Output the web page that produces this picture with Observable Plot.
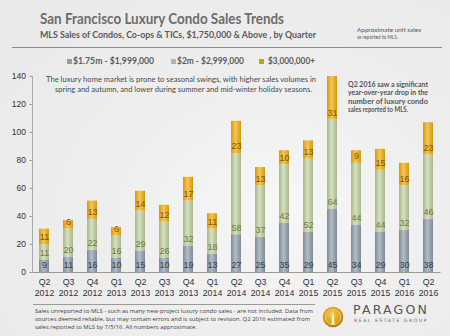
<!DOCTYPE html>
<html><head><meta charset="utf-8">
<script src="https://cdn.jsdelivr.net/npm/d3@7"></script>
<script src="https://cdn.jsdelivr.net/npm/@observablehq/plot@0.6"></script>
<style>
html,body{margin:0;padding:0;}
body{width:450px;height:336px;overflow:hidden;background:#fff;}
#card{position:absolute;left:0;top:0;width:450px;height:336px;background:radial-gradient(ellipse at 62% 62%, #f7f7f7 0%, #eeeeee 45%, #e9e9e9 100%);}
.t{position:absolute;white-space:nowrap;transform-origin:0 0;}
.line{position:absolute;}
#chart{position:absolute;left:0;top:66px;}
</style></head>
<body><div id="card">
<div class="line" style="left:12px;top:46.5px;width:430px;height:1px;background:#8a8a8a"></div>
<div class="line" style="left:33px;top:304px;width:282px;height:1px;background:#9a9a9a"></div>
<div id="chart"></div>
<svg style="position:absolute;left:322px;top:306px" width="22" height="22" viewBox="0 0 22 22">
  <defs><radialGradient id="lg" cx="45%" cy="40%" r="60%"><stop offset="0%" stop-color="#f6cf5a"/><stop offset="70%" stop-color="#d89c16"/><stop offset="100%" stop-color="#b07a0a"/></radialGradient></defs>
  <circle cx="11" cy="11" r="10.3" fill="url(#lg)"/>
  <circle cx="11" cy="11" r="7.6" fill="none" stroke="#fbe7a8" stroke-width="0.7" opacity="0.8"/>
  <path d="M11 3.2 L12.6 18.5 L9.4 18.5 Z" fill="#fff7e0"/>
</svg>
</div>
<script>
const quarters = ["Q2 2012","Q3 2012","Q4 2012","Q1 2013","Q2 2013","Q3 2013","Q4 2013","Q1 2014","Q2 2014","Q3 2014","Q4 2014","Q1 2015","Q2 2015","Q3 2015","Q4 2015","Q1 2016","Q2 2016"];
const tiers = ["$1.75m - $1,999,000","$2m - $2,999,000","$3,000,000+"];
const tier1 = [9,11,16,10,15,10,19,13,27,25,35,29,45,34,29,30,38];
const tier2 = [11,20,22,16,29,26,32,18,58,37,42,52,64,44,44,32,46];
const tier3 = [11,6,13,6,14,12,17,11,23,13,10,13,31,9,15,16,23];
const yTicks = [0,20,40,60,80,100,120,140];

const title = "San Francisco Luxury Condo Sales Trends";
const subtitle = "MLS Sales of Condos, Co-ops & TICs, $1,750,000 & Above , by Quarter";
const noteLines = ["Approximate unit sales","as reported to MLS."];
const ann1Lines = ["The luxury home market is prone to seasonal swings, with higher sales volumes in","spring and autumn, and lower during summer and mid-winter holiday seasons."];
const ann2Lines = ["Q2 2016 saw a significant","year-over-year drop in the","number of luxury condo","sales reported to MLS."];
const footLines = ["Sales unreported to MLS - such as many new-project luxury condo sales - are not included. Data from","sources deemed reliable, but may contain errors and is subject to revision. Q2 2016 estimated from","sales reported to MLS by 7/5/16. All numbers approximate."];

const swatch = ["#9b9b9b","#b4b99b","#c99a26"];
const gradIds = ["gA","gB","gC"];
const gradStops = [["#7e8b98","#b2bcc5","#7e8b98"],["#a9b88b","#d7e0be","#a9b88b"],["#d8980f","#f4c552","#d8980f"]];
const labelCol = ["#34424f","#6b7a4c","#7a560a"];

const card = document.getElementById("card");
function place(txt, x, cy, w, size, opts={}) {
  const el = document.createElement("div");
  el.className = "t";
  el.textContent = txt;
  el.style.left = x + "px";
  el.style.top = (cy - 0.56*size) + "px";
  el.style.fontSize = size + "px";
  el.style.lineHeight = size + "px";
  el.style.fontFamily = opts.font || "Lato, 'Open Sans', sans-serif";
  el.style.fontWeight = opts.weight || "normal";
  el.style.color = opts.color || "#444";
  if (opts.ls) el.style.letterSpacing = opts.ls + "px";
  card.appendChild(el);
  const r = el.getBoundingClientRect().width;
  el.style.transform = `scaleX(${w / r})`;
  return el;
}

place(title, 40, 20, 244, 14.5, {weight:"bold", color:"#6d6d6d"});
place(subtitle, 40, 34.3, 276, 10, {weight:"bold", color:"#5a5a5a"});
place(noteLines[0], 357, 29.8, 64, 5.8, {color:"#555"});
place(noteLines[1], 357, 37, 41, 5.8, {color:"#555"});

const legX = [67,171,259], legTX = [73,177,268], legW = [81,67,47];
tiers.forEach((t,k)=>{
  const sq = document.createElement("div");
  sq.className = "line";
  Object.assign(sq.style,{left:legX[k]+"px",top:"59.3px",width:"5px",height:"5px",background:swatch[k]});
  card.appendChild(sq);
  place(t, legTX[k], 61.7, legW[k], 8.5, {weight:"bold", color:"#5a5a5a"});
});

place(ann1Lines[0], 46, 80.7, 270, 7.6, {color:"#4a4a4a"});
place(ann1Lines[1], 55, 90.2, 257, 7.6, {color:"#4a4a4a"});
const ann2W = [80,80,80,60];
ann2Lines.forEach((l,i)=>place(l, 348, 85 + i*8.3, ann2W[i], 7, {weight:"bold", color:"#555"}));

const footW = [278,275,162];
footLines.forEach((l,i)=>place(l, 35, 311 + i*8, footW[i], 6, {color:"#404040", font:"'Open Sans', sans-serif"}));
place("PARAGON", 353, 311, 76, 11.5, {color:"#555", font:"'DejaVu Sans', sans-serif", ls:2});
place("REAL ESTATE GROUP", 354, 321.7, 74, 4.6, {color:"#666", font:"'DejaVu Sans', sans-serif", ls:1.5});

const series = [tier1,tier2,tier3];
const data = [];
series.forEach((vals,k)=>vals.forEach((v,i)=>data.push({q:quarters[i],tier:tiers[k],v,k})));

const chart = Plot.plot({
  width:450, height:240,
  marginTop:10, marginBottom:34, marginLeft:32.5, marginRight:9.5,
  style:{background:"transparent",fontFamily:"'Liberation Sans Narrow','Liberation Sans', sans-serif",overflow:"visible"},
  x:{domain:quarters, paddingInner:0.58, paddingOuter:0.29, label:null},
  y:{domain:[0,140], label:null},
  color:{domain:tiers, range:gradIds.map(id=>`url(#${id})`)},
  marks:[
    Plot.barY(data, {x:"q", y:"v", fill:"tier", z:"tier"}),
    Plot.text(data, Plot.stackY1({x:"q", y:"v", z:"tier", text:"v", dy:-7, fontSize:9, fill:d=>labelCol[d.k]})),
    Plot.ruleY([0], {stroke:"#999"}),
    Plot.ruleX([quarters[0]], {stroke:"#aaa", dx:-12}),
    Plot.axisY({ticks:yTicks, tickSize:3, tickPadding:4, fontSize:8.5, stroke:"#999", color:"#333"}),
    Plot.axisX({tickSize:0, tickPadding:5, fontSize:8.8, lineHeight:1.25, color:"#333", tickFormat:d=>d.replace(" ","\n")})
  ]
});
const defs = d3.select(chart).insert("defs",":first-child");
gradIds.forEach((id,k)=>{
  const g = defs.append("linearGradient").attr("id",id).attr("x1",0).attr("x2",1).attr("y1",0).attr("y2",0);
  g.append("stop").attr("offset","0%").attr("stop-color",gradStops[k][0]);
  g.append("stop").attr("offset","45%").attr("stop-color",gradStops[k][1]);
  g.append("stop").attr("offset","100%").attr("stop-color",gradStops[k][2]);
});
document.getElementById("chart").appendChild(chart);
</script>
</body></html>
